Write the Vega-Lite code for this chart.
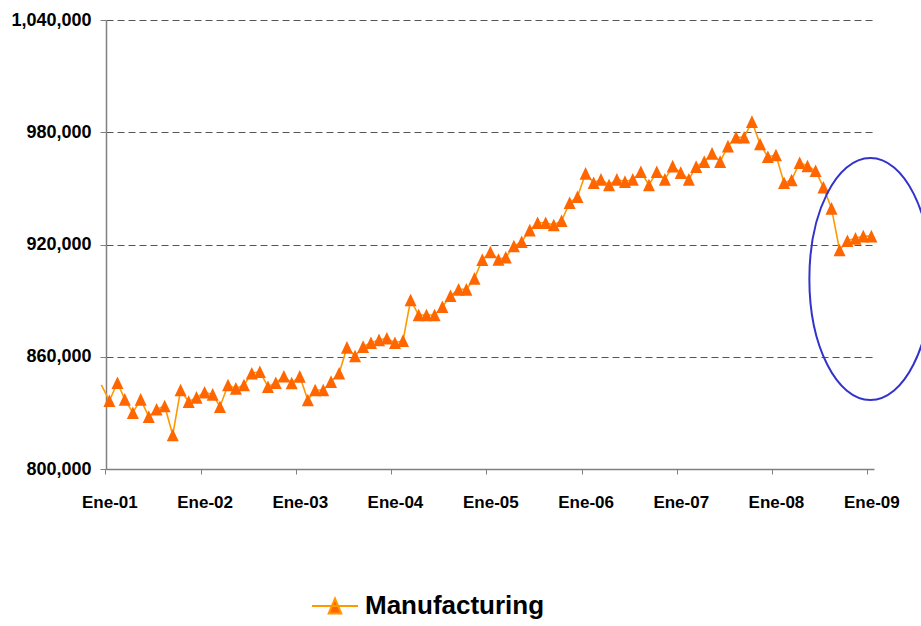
{
  "$schema": "https://vega.github.io/schema/vega-lite/v6.json",
  "width": 768,
  "height": 449,
  "autosize": "none",
  "padding": {"left": 106, "top": 20, "right": 47, "bottom": 157},
  "background": "white",
  "config": {
    "view": {"stroke": null},
    "font": "Liberation Sans, Arial, sans-serif"
  },
  "datasets": {
    "manufacturing": [
      {"date": "2000-12-01", "value": 845000},
      {"date": "2001-01-01", "value": 836500},
      {"date": "2001-02-01", "value": 846100},
      {"date": "2001-03-01", "value": 837200},
      {"date": "2001-04-01", "value": 830100},
      {"date": "2001-05-01", "value": 837200},
      {"date": "2001-06-01", "value": 828000},
      {"date": "2001-07-01", "value": 831900},
      {"date": "2001-08-01", "value": 833700},
      {"date": "2001-09-01", "value": 818200},
      {"date": "2001-10-01", "value": 842200},
      {"date": "2001-11-01", "value": 836000},
      {"date": "2001-12-01", "value": 838300},
      {"date": "2002-01-01", "value": 841000},
      {"date": "2002-02-01", "value": 839900},
      {"date": "2002-03-01", "value": 833300},
      {"date": "2002-04-01", "value": 844900},
      {"date": "2002-05-01", "value": 843100},
      {"date": "2002-06-01", "value": 844900},
      {"date": "2002-07-01", "value": 851200},
      {"date": "2002-08-01", "value": 852000},
      {"date": "2002-09-01", "value": 844000},
      {"date": "2002-10-01", "value": 846100},
      {"date": "2002-11-01", "value": 849600},
      {"date": "2002-12-01", "value": 846000},
      {"date": "2003-01-01", "value": 849500},
      {"date": "2003-02-01", "value": 836900},
      {"date": "2003-03-01", "value": 842200},
      {"date": "2003-04-01", "value": 842200},
      {"date": "2003-05-01", "value": 846700},
      {"date": "2003-06-01", "value": 851200},
      {"date": "2003-07-01", "value": 865000},
      {"date": "2003-08-01", "value": 860400},
      {"date": "2003-09-01", "value": 865400},
      {"date": "2003-10-01", "value": 867500},
      {"date": "2003-11-01", "value": 869000},
      {"date": "2003-12-01", "value": 869900},
      {"date": "2004-01-01", "value": 867500},
      {"date": "2004-02-01", "value": 868600},
      {"date": "2004-03-01", "value": 890300},
      {"date": "2004-04-01", "value": 882300},
      {"date": "2004-05-01", "value": 882300},
      {"date": "2004-06-01", "value": 882300},
      {"date": "2004-07-01", "value": 886700},
      {"date": "2004-08-01", "value": 892600},
      {"date": "2004-09-01", "value": 896000},
      {"date": "2004-10-01", "value": 896000},
      {"date": "2004-11-01", "value": 901900},
      {"date": "2004-12-01", "value": 911900},
      {"date": "2005-01-01", "value": 916000},
      {"date": "2005-02-01", "value": 912000},
      {"date": "2005-03-01", "value": 913200},
      {"date": "2005-04-01", "value": 919200},
      {"date": "2005-05-01", "value": 921500},
      {"date": "2005-06-01", "value": 927700},
      {"date": "2005-07-01", "value": 931600},
      {"date": "2005-08-01", "value": 931600},
      {"date": "2005-09-01", "value": 930400},
      {"date": "2005-10-01", "value": 932700},
      {"date": "2005-11-01", "value": 942300},
      {"date": "2005-12-01", "value": 945500},
      {"date": "2006-01-01", "value": 958000},
      {"date": "2006-02-01", "value": 953000},
      {"date": "2006-03-01", "value": 954800},
      {"date": "2006-04-01", "value": 951800},
      {"date": "2006-05-01", "value": 954800},
      {"date": "2006-06-01", "value": 953600},
      {"date": "2006-07-01", "value": 954800},
      {"date": "2006-08-01", "value": 958900},
      {"date": "2006-09-01", "value": 951800},
      {"date": "2006-10-01", "value": 958900},
      {"date": "2006-11-01", "value": 954800},
      {"date": "2006-12-01", "value": 961900},
      {"date": "2007-01-01", "value": 958400},
      {"date": "2007-02-01", "value": 954800},
      {"date": "2007-03-01", "value": 961600},
      {"date": "2007-04-01", "value": 964300},
      {"date": "2007-05-01", "value": 968700},
      {"date": "2007-06-01", "value": 964300},
      {"date": "2007-07-01", "value": 972600},
      {"date": "2007-08-01", "value": 977300},
      {"date": "2007-09-01", "value": 977300},
      {"date": "2007-10-01", "value": 985700},
      {"date": "2007-11-01", "value": 973700},
      {"date": "2007-12-01", "value": 966900},
      {"date": "2008-01-01", "value": 967800},
      {"date": "2008-02-01", "value": 953000},
      {"date": "2008-03-01", "value": 954500},
      {"date": "2008-04-01", "value": 963700},
      {"date": "2008-05-01", "value": 962000},
      {"date": "2008-06-01", "value": 959400},
      {"date": "2008-07-01", "value": 950600},
      {"date": "2008-08-01", "value": 939300},
      {"date": "2008-09-01", "value": 917100},
      {"date": "2008-10-01", "value": 922000},
      {"date": "2008-11-01", "value": 923300},
      {"date": "2008-12-01", "value": 924500},
      {"date": "2009-01-01", "value": 924500}
    ],
    "highlight": [
      {"date": "2008-12-28", "value": 901600}
    ]
  },
  "layer": [
    {
      "data": {"name": "manufacturing"},
      "mark": {"type": "line", "strokeWidth": 1.6, "clip": false},
      "encoding": {
        "x": {
          "field": "date",
          "type": "temporal",
          "scale": {
            "type": "utc",
            "domain": [
              {"year": 2000, "month": 12, "date": 19, "utc": true},
              {"year": 2009, "month": 1, "date": 11, "utc": true}
            ]
          },
          "axis": {
            "title": null,
            "values": [
              {"year": 2001, "month": 1, "date": 1, "utc": true},
              {"year": 2002, "month": 1, "date": 1, "utc": true},
              {"year": 2003, "month": 1, "date": 1, "utc": true},
              {"year": 2004, "month": 1, "date": 1, "utc": true},
              {"year": 2005, "month": 1, "date": 1, "utc": true},
              {"year": 2006, "month": 1, "date": 1, "utc": true},
              {"year": 2007, "month": 1, "date": 1, "utc": true},
              {"year": 2008, "month": 1, "date": 1, "utc": true},
              {"year": 2009, "month": 1, "date": 1, "utc": true}
            ],
            "labelExpr": "'Ene-' + utcFormat(datum.value, '%y')",
            "grid": false,
            "domainColor": "#808080",
            "domainWidth": 1.5,
            "tickColor": "#808080",
            "tickSize": 5,
            "tickOffset": -4,
            "labelOffset": 4,
            "labelPadding": 20,
            "labelFontSize": 17,
            "labelFontWeight": "bold",
            "labelColor": "#000000",
            "labelFlush": false
          }
        },
        "y": {
          "field": "value",
          "type": "quantitative",
          "scale": {"domain": [800000, 1040000], "nice": false, "zero": false},
          "axis": {
            "title": null,
            "values": [800000, 860000, 920000, 980000, 1040000],
            "format": ",d",
            "grid": true,
            "gridDash": [7, 4],
            "gridColor": "#555555",
            "gridWidth": 1,
            "domainColor": "#808080",
            "domainWidth": 1.5,
            "tickColor": "#808080",
            "tickSize": 6,
            "labelPadding": 9,
            "labelFontSize": 18,
            "labelFontWeight": "bold",
            "labelColor": "#000000"
          }
        },
        "color": {
          "datum": "Manufacturing",
          "scale": {"range": ["#FF9900"]},
          "legend": {
            "title": null,
            "orient": "none",
            "legendX": 205,
            "legendY": 562,
            "padding": 0,
            "labelFontSize": 26,
            "labelFontWeight": "bold",
            "labelColor": "#000000",
            "labelOffset": 6,
            "labelLimit": 400,
            "symbolType": "M -1 0 L 1 0 M -0.274 0.326 L 0 -0.326 L 0.274 0.326 Z",
            "symbolSize": 2116,
            "encode": {
              "symbols": {
                "update": {
                  "fill": {"value": "#FF6600"},
                  "stroke": {"value": "#FF9900"},
                  "strokeWidth": {"value": 2},
                  "opacity": {"value": 1}
                }
              }
            }
          }
        }
      }
    },
    {
      "data": {"name": "manufacturing"},
      "transform": [{"filter": "utcyear(toDate(datum.date)) >= 2001"}],
      "mark": {"type": "point", "shape": "M -1 1.05 L 0 -1.05 L 1 1.05 Z", "filled": true, "size": 144, "color": "#FF6600", "opacity": 1, "clip": false},
      "encoding": {
        "x": {"field": "date", "type": "temporal"},
        "y": {"field": "value", "type": "quantitative"}
      }
    },
    {
      "data": {"name": "highlight"},
      "mark": {
        "type": "point",
        "shape": "M 0.504 0 C 0.504 0.5523 0.2784 1 0 1 C -0.2784 1 -0.504 0.5523 -0.504 0 C -0.504 -0.5523 -0.2784 -1 0 -1 C 0.2784 -1 0.504 -0.5523 0.504 0 Z",
        "size": 58564,
        "filled": false,
        "color": "#3333CC",
        "strokeWidth": 2,
        "opacity": 1,
        "clip": false
      },
      "encoding": {
        "x": {"field": "date", "type": "temporal"},
        "y": {"field": "value", "type": "quantitative"}
      }
    }
  ]
}
